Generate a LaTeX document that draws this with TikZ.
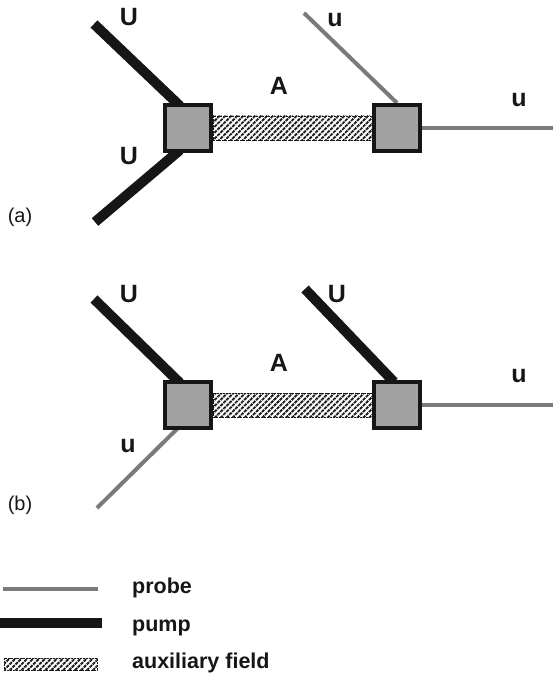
\documentclass[tikz,border=0pt]{standalone}
\usepackage{fontspec}
\setmainfont{Liberation Sans}
\usetikzlibrary{patterns.meta,calc,backgrounds}
\definecolor{probegray}{HTML}{7A7A7A}
\definecolor{ink}{HTML}{161616}
\definecolor{boxgray}{HTML}{A2A2A2}
\tikzset{
  vertex/.style={draw=ink, fill=boxgray, line width=4pt, minimum size=46pt, inner sep=0pt},
  pumpline/.style={draw=ink, line width=10pt},
  probeline/.style={draw=probegray, line width=4pt},
  auxbar/.style={fill=white,
                 postaction={pattern={Lines[angle=45, distance=4.2pt, line width=1.9pt]}, pattern color=ink},
                 draw=ink, line width=0.8pt, dash pattern=on 2pt off 1pt},
  fieldlabel/.style={font=\bfseries\fontsize{25}{29}\selectfont, text=ink, inner sep=0pt},
  panellabel/.style={font=\fontsize{20}{24}\selectfont, text=ink, inner sep=0pt},
  legendtext/.style={font=\bfseries\fontsize{21.5}{25}\selectfont, text=ink, anchor=base west, inner sep=0pt},
}
\begin{document}
\begin{tikzpicture}[x=1pt,y=-1pt]
\useasboundingbox (0,0) rectangle (553,674);

% ---- panel (a) ----
\node[vertex] (aL) at (188,128) {};
\node[vertex] (aR) at (397,128) {};
\coordinate (aPumpTop) at (94,24);
\coordinate (aPumpBot) at (95,222);
\coordinate (aProbeTop) at (304,13);
\coordinate (aProbeEnd) at (553,128);
\begin{pgfonlayer}{background}
  \draw[pumpline] (aPumpTop) -- ($(aL.north west)+(17,3)$);
  \draw[pumpline] (aPumpBot) -- ($(aL.south west)+(17,-3)$);
  \draw[probeline] (aProbeTop) -- (aR.north);
  \draw[probeline] (aR.east) -- (aProbeEnd);
  \path[auxbar] ($(aL.east)+(0,-12)$) rectangle ($(aR.west)+(0,12)$);
\end{pgfonlayer}
\node[fieldlabel] (aU1) at (129,17) {U};
\node[fieldlabel] (aU2) at (129,156) {U};
\node[fieldlabel] (au1) at (335,20) {u};
\node[fieldlabel] (au2) at (519,100) {u};
\node[fieldlabel] (aA) at (279,86) {A};
\node[panellabel] (aTag) at (20,217) {(a)};

% ---- panel (b) ----
\node[vertex] (bL) at (188,405) {};
\node[vertex] (bR) at (397,405) {};
\coordinate (bPumpTop) at (94,299);
\coordinate (bPumpTopR) at (305,289);
\coordinate (bProbeBot) at (97,508);
\coordinate (bProbeEnd) at (553,405);
\begin{pgfonlayer}{background}
  \draw[pumpline] (bPumpTop) -- ($(bL.north west)+(17,3)$);
  \draw[pumpline] (bPumpTopR) -- ($(bR.north)+(-3,2)$);
  \draw[probeline] (bProbeBot) -- ($(bL.south west)+(15,-2)$);
  \draw[probeline] (bR.east) -- (bProbeEnd);
  \path[auxbar] ($(bL.east)+(0,-12)$) rectangle ($(bR.west)+(0,12)$);
\end{pgfonlayer}
\node[fieldlabel] (bU1) at (129,294) {U};
\node[fieldlabel] (bU2) at (337,294) {U};
\node[fieldlabel] (bu1) at (128,446) {u};
\node[fieldlabel] (bu2) at (519,376) {u};
\node[fieldlabel] (bA) at (279,363) {A};
\node[panellabel] (bTag) at (20,505) {(b)};

% ---- legend ----
\coordinate (lgProbeA) at (3,589);
\coordinate (lgProbeB) at (98,589);
\coordinate (lgPumpA) at (0,623);
\coordinate (lgPumpB) at (102,623);
\draw[probeline] (lgProbeA) -- (lgProbeB);
\draw[pumpline] (lgPumpA) -- (lgPumpB);
\path[auxbar] (4,658) rectangle (97,670);
\node[legendtext] (lgProbe) at (132,593) {probe};
\node[legendtext] (lgPump) at (132,631) {pump};
\node[legendtext] (lgAux) at (132,668) {auxiliary field};
\end{tikzpicture}
\end{document}
